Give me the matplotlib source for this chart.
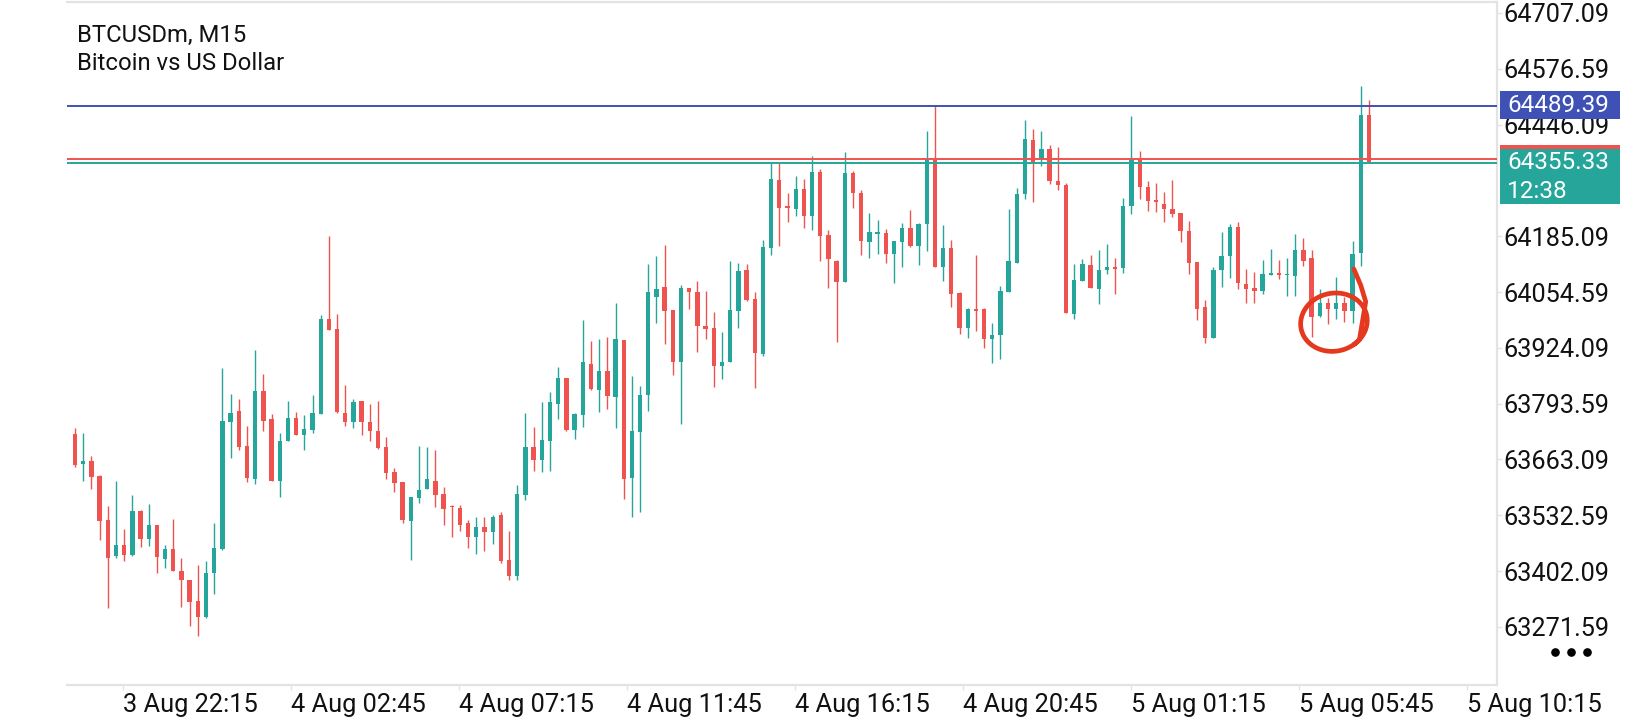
import numpy as np
import matplotlib
matplotlib.use("Agg")
import matplotlib.pyplot as plt
from matplotlib.patches import Rectangle
from matplotlib.lines import Line2D
from matplotlib.transforms import blended_transform_factory

plt.rcParams['font.family'] = ['Roboto', 'DejaVu Sans']

# ---------------- data (BTCUSDm, M15) ----------------
opens = [63722, 63653, 63659, 63624, 63521, 63437, 63463, 63440, 63543, 63478,
         63510, 63430, 63454, 63402, 63381, 63332, 63295, 63397, 63453, 63751,
         63776, 63694, 63618, 63823, 63758, 63613, 63705, 63759, 63720, 63732,
         63770, 63992, 63967, 63771, 63751, 63800, 63751, 63730, 63693, 63634,
         63610, 63520, 63572, 63593, 63613, 63582, 63554, 63550, 63514, 63482,
         63506, 63494, 63532, 63428, 63390, 63580, 63693, 63662, 63707, 63793,
         63854, 63732, 63767, 63887, 63825, 63871, 63810, 63942, 63620, 63728,
         63814, 64044, 64067, 64013, 63892, 64063, 64054, 63975, 63970, 63882,
         63892, 64011, 64106, 64038, 63910, 64158, 64317, 64254, 64249, 64295,
         64233, 64335, 64189, 64127, 64079, 64332, 64285, 64172, 64190, 64192,
         64143, 64171, 64204, 64161, 64213, 64363, 64114, 64157, 64052, 63971,
         64014, 64015, 63944, 63953, 64055, 64123, 64284, 64410, 64366, 64388,
         64315, 64305, 64002, 64080, 64118, 64061, 64105, 64112, 64110, 64256,
         64365, 64299, 64270, 64260, 64248, 64239, 64198, 64124, 64019, 63946,
         64105, 64139, 64207, 64073, 64065, 64058, 64095, 64100, 64094, 64091,
         64153, 64133, 63999, 64030, 64014, 64030, 64011, 64145, 64469]
highs = [63736, 63726, 63671, 63626, 63554, 63613, 63500, 63580, 63545, 63559,
         63510, 63463, 63524, 63432, 63381, 63416, 63426, 63514, 63876, 63816,
         63804, 63741, 63920, 63863, 63769, 63726, 63800, 63775, 63767, 63814,
         64001, 64186, 64002, 63837, 63804, 63800, 63793, 63800, 63715, 63644,
         63611, 63576, 63694, 63691, 63685, 63598, 63557, 63557, 63521, 63529,
         63529, 63533, 63540, 63496, 63603, 63772, 63740, 63798, 63820, 63880,
         63854, 63772, 63988, 63939, 63945, 63950, 64030, 63942, 63857, 63835,
         64119, 64139, 64165, 64013, 64071, 64065, 64080, 64057, 64007, 63960,
         64127, 64122, 64119, 64054, 64176, 64357, 64357, 64285, 64326, 64318,
         64373, 64342, 64200, 64129, 64383, 64338, 64293, 64239, 64223, 64201,
         64174, 64215, 64246, 64215, 64432, 64490, 64211, 64176, 64054, 64018,
         64140, 64018, 63981, 64069, 64249, 64297, 64457, 64435, 64431, 64398,
         64393, 64310, 64120, 64132, 64141, 64153, 64166, 64133, 64274, 64466,
         64384, 64314, 64309, 64288, 64317, 64239, 64221, 64124, 64036, 64114,
         64194, 64214, 64218, 64108, 64101, 64129, 64155, 64129, 64133, 64190,
         64182, 64153, 64062, 64040, 64089, 64042, 64175, 64536, 64504]
lows = [63646, 63613, 63595, 63475, 63316, 63432, 63426, 63437, 63459, 63461,
        63398, 63410, 63401, 63319, 63274, 63251, 63293, 63348, 63451, 63666,
        63684, 63610, 63606, 63730, 63613, 63574, 63705, 63720, 63684, 63726,
        63770, 63966, 63771, 63741, 63737, 63720, 63707, 63688, 63617, 63588,
        63514, 63429, 63560, 63593, 63551, 63510, 63482, 63496, 63457, 63443,
        63450, 63465, 63420, 63381, 63381, 63568, 63637, 63634, 63637, 63758,
        63730, 63711, 63740, 63825, 63775, 63781, 63737, 63570, 63529, 63539,
        63777, 63983, 63932, 63861, 63745, 64014, 63914, 63944, 63833, 63850,
        63891, 63970, 64034, 63829, 63906, 64140, 64161, 64218, 64233, 64205,
        64200, 64126, 64063, 63937, 64077, 64250, 64140, 64133, 64143, 64123,
        64075, 64112, 64160, 64118, 64151, 64114, 64081, 64019, 63956, 63946,
        63964, 63923, 63889, 63897, 64055, 64123, 64271, 64264, 64350, 64306,
        64292, 64005, 63991, 64080, 64063, 64026, 64096, 64049, 64098, 64236,
        64272, 64243, 64241, 64218, 64231, 64172, 64096, 63988, 63936, 63946,
        64067, 64087, 64061, 64028, 64030, 64049, 64095, 64085, 64046, 64046,
        64116, 63950, 63997, 63980, 63991, 63985, 63981, 64115, 64355.33]
closes = [63650, 63659, 63623, 63519, 63433, 63463, 63440, 63542, 63478, 63510,
          63436, 63454, 63402, 63380, 63330, 63295, 63397, 63455, 63753, 63771,
          63693, 63620, 63823, 63754, 63613, 63706, 63759, 63720, 63734, 63771,
          63991, 63966, 63775, 63751, 63798, 63751, 63730, 63689, 63632, 63609,
          63521, 63576, 63592, 63617, 63580, 63548, 63551, 63510, 63482, 63506,
          63494, 63529, 63426, 63390, 63582, 63691, 63662, 63709, 63798, 63854,
          63732, 63769, 63892, 63827, 63871, 63812, 63945, 63617, 63730, 63814,
          64054, 64062, 64009, 63892, 64063, 64055, 63974, 63969, 63882, 63890,
          64013, 64104, 64036, 63911, 64159, 64318, 64252, 64251, 64295, 64233,
          64335, 64186, 64131, 64077, 64332, 64285, 64173, 64194, 64193, 64143,
          64174, 64204, 64161, 64213, 64363, 64114, 64157, 64049, 63971, 64016,
          64011, 63945, 63954, 64057, 64127, 64284, 64412, 64357, 64388, 64315,
          64305, 64005, 64083, 64120, 64063, 64106, 64112, 64109, 64256, 64365,
          64299, 64267, 64264, 64248, 64237, 64198, 64123, 64015, 63946, 64106,
          64139, 64206, 64075, 64062, 64058, 64097, 64098, 64095, 64097, 64153,
          64126, 63997, 64030, 64014, 64030, 64011, 64144, 64469, 64355.33]

# 64315.59 sits hidden behind the bid box in the reference, so it is left out
y_ticks = [64707.09, 64576.59, 64446.09, 64185.09, 64054.59, 63924.09,
           63793.59, 63663.09, 63532.59, 63402.09, 63271.59]
x_tick_labels = ["3 Aug 22:15", "4 Aug 02:45", "4 Aug 07:15", "4 Aug 11:45",
                 "4 Aug 16:15", "4 Aug 20:45", "5 Aug 01:15", "5 Aug 05:45",
                 "5 Aug 10:15"]
blue_level = 64489.39
bid_level = 64355.33
ask_level = 64364.5
countdown = "12:38"
title_line1 = "BTCUSDm, M15"
title_line2 = "Bitcoin vs US Dollar"

# ---------------- styling ----------------
BULL = '#26A69A'
BEAR = '#EF5350'
BLUE = '#3F51B5'
FRAME = '#E3E3E3'
W, H = 1640, 720

fig = plt.figure(figsize=(W / 100, H / 100), dpi=100)
fig.patch.set_facecolor('white')
ax_l, ax_r, ax_t, ax_b = 67, 1497, 2, 685
ax = fig.add_axes([ax_l / W, 1 - ax_b / H, (ax_r - ax_l) / W, (ax_b - ax_t) / H])
ax.set_facecolor('white')

x0, x1 = -0.977, 173.63
y0, y1 = 63135.5, 64732.8
ax.set_xlim(x0, x1)
ax.set_ylim(y0, y1)
ax_w_px = ax_r - ax_l
ax_h_px = ax_b - ax_t
px_per_candle = ax_w_px / (x1 - x0)
price_per_px = (y1 - y0) / ax_h_px

o = np.array(opens, float)
h = np.array(highs, float)
l = np.array(lows, float)
c = np.array(closes, float)
idx = np.arange(len(o))
cols = [BULL if cc >= oo else BEAR for oo, cc in zip(o, c)]

ax.vlines(idx, l, h, colors=cols, linewidth=1.0, zorder=3)
body_bottom = np.minimum(o, c)
body_h = np.maximum(np.abs(c - o), 1.6 * price_per_px)
ax.bar(idx, body_h, bottom=body_bottom, width=0.53, color=cols, linewidth=0, zorder=4)

# horizontal levels
ax.axhline(blue_level, color=BLUE, linewidth=1.4, zorder=6)
ax.axhline(ask_level, color=BEAR, linewidth=1.4, zorder=6)
ax.axhline(bid_level, color=BULL, linewidth=1.4, zorder=6)

# spines
ax.spines['left'].set_visible(False)
for s in ['top', 'right', 'bottom']:
    ax.spines[s].set_color(FRAME)
    ax.spines[s].set_linewidth(1.6)

# ticks
ax.yaxis.tick_right()
ax.set_yticks(y_ticks)
ax.set_yticklabels([f"{v:.2f}" for v in y_ticks])
ax.tick_params(axis='y', which='both', length=3.6, width=1.0, color=FRAME,
               pad=1.0, labelsize=18.2, labelcolor='#111111')

x_tick_pos = [5.82 + 20.525 * k for k in range(len(x_tick_labels))]
ax.set_xticks(x_tick_pos)
ax.set_xticklabels(x_tick_labels)
ax.tick_params(axis='x', which='both', length=3.5, width=1.0, color=FRAME,
               pad=2.0, labelsize=18.3, labelcolor='#111111')
for lab in ax.get_xticklabels():
    lab.set_horizontalalignment('left')

# title
fig.text(77 / W, 1 - 42.3 / H, title_line1, fontsize=17.2, color='#111111', va='baseline')
fig.text(77 / W, 1 - 70 / H, title_line2, fontsize=17.2, color='#111111', va='baseline')

# price boxes on the right axis
tr = blended_transform_factory(ax.transAxes, ax.transData)
bx0 = (1500 - ax_l) / ax_w_px
bw = (1620 - 1500) / ax_w_px
tx = (1507 - ax_l) / ax_w_px


def box(level, up_px, down_px, color, z):
    r = Rectangle((bx0, level - down_px * price_per_px), bw,
                  (up_px + down_px) * price_per_px, transform=tr,
                  facecolor=color, edgecolor='none', clip_on=False, zorder=z)
    ax.add_patch(r)


box(blue_level, 15, 13, BLUE, 10)
ax.text(tx, blue_level + 1 * price_per_px, f"{blue_level:.2f}", transform=tr, color='white',
        fontsize=17.5, va='center', ha='left', clip_on=False, zorder=11)

box(ask_level, 14.3, 40, BEAR, 10)
box(bid_level, 14, 41, BULL, 10.5)
ax.text(tx, bid_level + 0.5 * price_per_px, f"{bid_level:.2f}", transform=tr, color='white',
        fontsize=17.5, va='center', ha='left', clip_on=False, zorder=11)
ax.text(tx, bid_level - 28 * price_per_px, countdown, transform=tr, color='white',
        fontsize=17.5, va='center', ha='left', clip_on=False, zorder=11)

# three dots menu
for xd in (1555, 1571, 1587):
    fig.add_artist(Line2D([xd / W], [1 - 652 / H], marker='o', markersize=5.2,
                          color='black', linestyle='none', transform=fig.transFigure))

# hand-drawn annotation (circle + stroke)
cx_i, cy_p = 153.72, 63984.0
t = np.linspace(-0.35 * np.pi, 1.72 * np.pi, 200)
rx, ry = 33.5, 29.0
tilt = np.deg2rad(12)
ex = rx * np.cos(t)
ey = ry * np.sin(t)
rxp = ex * np.cos(tilt) - ey * np.sin(tilt)
ryp = ex * np.sin(tilt) + ey * np.cos(tilt)
circ_x = cx_i + rxp / px_per_candle
circ_y = cy_p + ryp * price_per_px
tail_x = [156.15, 157.0, 157.6]
tail_y = [64108.4, 64070.0, 64031.9]
ann_x = np.concatenate([tail_x, circ_x[::-1]])
ann_y = np.concatenate([tail_y, circ_y[::-1]])
ax.plot(ann_x, ann_y, color='#E5391F', linewidth=3.4, solid_capstyle='round',
        solid_joinstyle='round', zorder=20, clip_on=False)

fig.savefig('out.png', dpi=100, facecolor='white')
